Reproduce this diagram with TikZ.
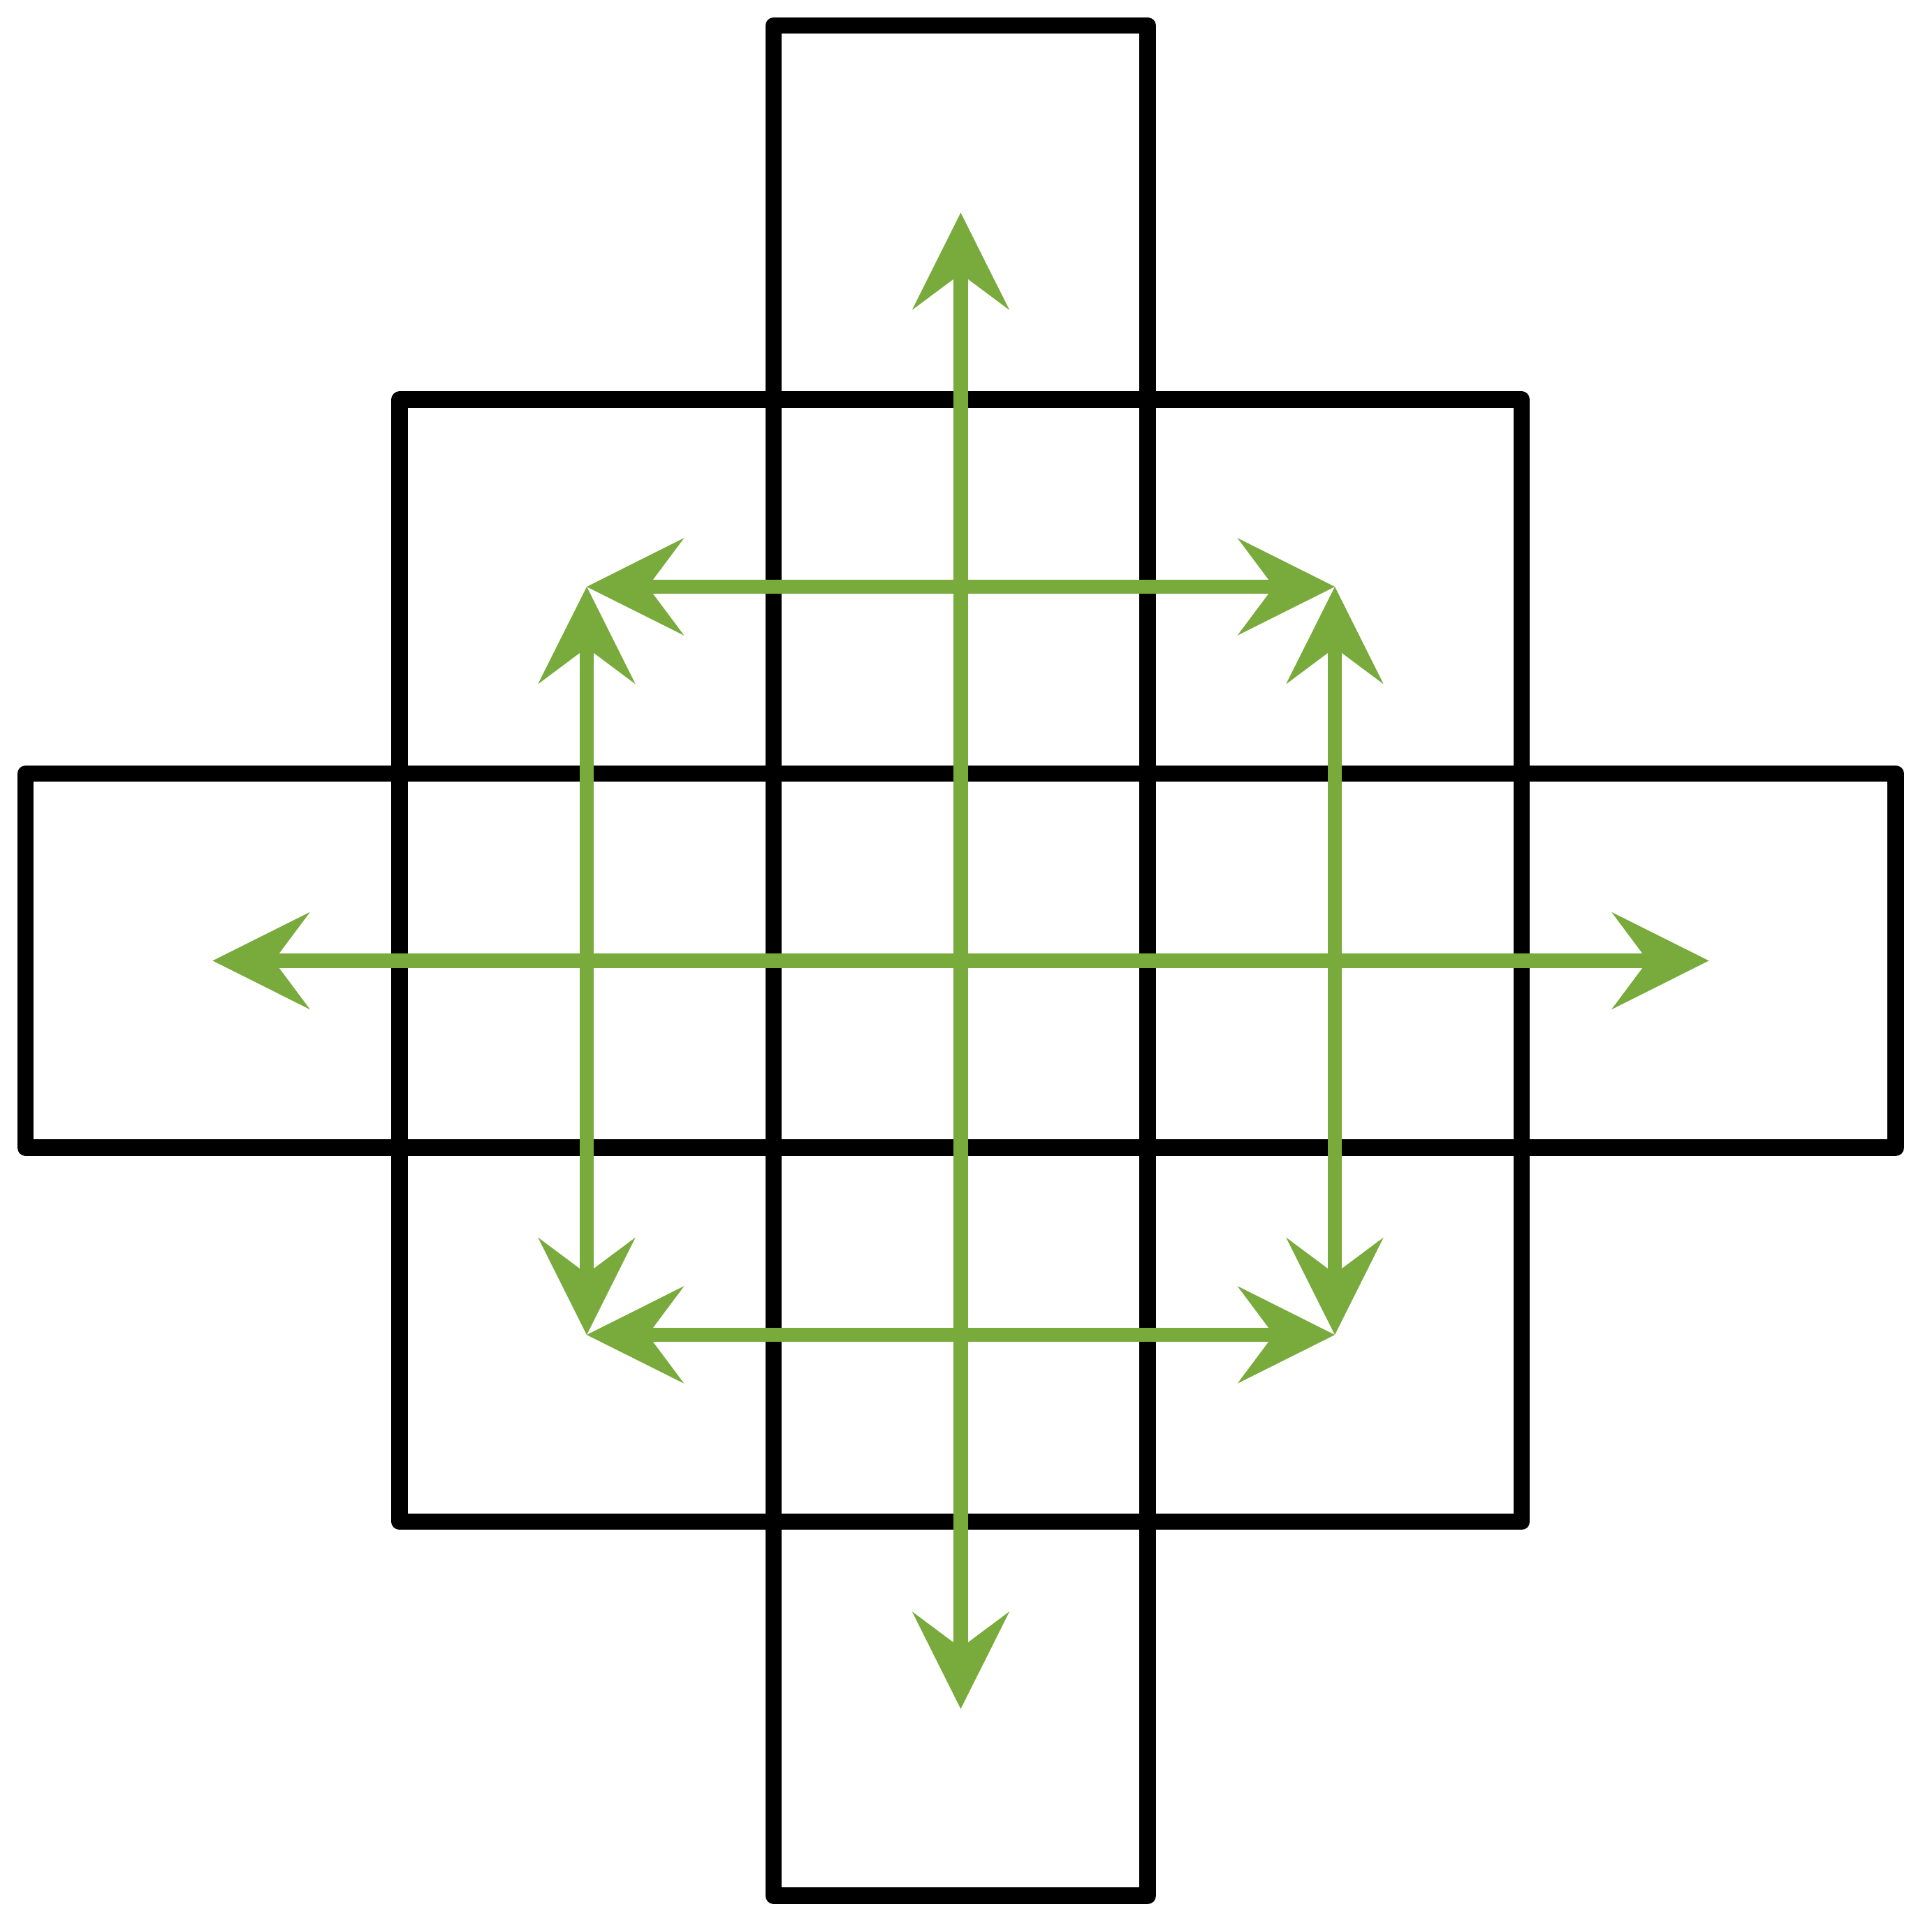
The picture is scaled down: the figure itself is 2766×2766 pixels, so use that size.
\documentclass[tikz,border=0pt]{standalone}
\usetikzlibrary{arrows.meta}
\definecolor{leafgreen}{RGB}{120,170,60}
\begin{document}
\begin{tikzpicture}[x=0.01cm,y=-0.01cm,
  frame/.style={draw=black,line width=6.69pt,line join=round},
  flow/.style={draw=leafgreen,fill=none,line width=5.83pt,{Stealth[length=1.393cm,width=1.394cm,inset=0.52cm,line width=0pt]}-{Stealth[length=1.393cm,width=1.394cm,inset=0.52cm,line width=0pt]}}]
\useasboundingbox (0,0) rectangle (2766,2766);
% grid positions
\coordinate (hsA) at (36.7,1107.7);   \coordinate (hsB) at (2714.2,1643.2);
\coordinate (vsA) at (1107.7,36.7);   \coordinate (vsB) at (1643.2,2714.2);
\coordinate (sqA) at (572.2,572.2);   \coordinate (sqB) at (2178.7,2178.7);
% frames
\draw[frame] (sqA) rectangle (sqB);
\draw[frame] (hsA) rectangle (hsB);
\draw[frame] (vsA) rectangle (vsB);
% arrow end points
\coordinate (cT) at (1375.45,304.5);
\coordinate (cB) at (1375.45,2446.5);
\coordinate (cL) at (304.5,1375.45);
\coordinate (cR) at (2446.5,1375.45);
\coordinate (qTL) at (840,840);
\coordinate (qTR) at (1911,840);
\coordinate (qBL) at (840,1911);
\coordinate (qBR) at (1911,1911);
% arrows
\draw[flow] (cT) -- (cB);
\draw[flow] (cL) -- (cR);
\draw[flow] (qTL) -- (qTR);
\draw[flow] (qBL) -- (qBR);
\draw[flow] (qTL) -- (qBL);
\draw[flow] (qTR) -- (qBR);
\end{tikzpicture}
\end{document}
